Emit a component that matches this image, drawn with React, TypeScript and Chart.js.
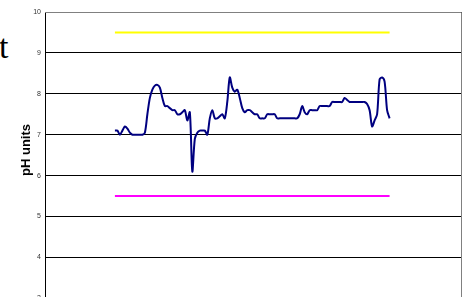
import React, { useEffect, useRef } from "react";
import { Chart, registerables } from "chart.js";

Chart.register(...registerables);

// pH readings (one per sample)
const phValues: number[] = [
  7.1, 7.1, 7.0, 7.1, 7.2, 7.15, 7.05, 7.0, 7.0, 7.0,
  7.0, 7.0, 7.05, 7.5, 7.9, 8.1, 8.2, 8.22, 8.15, 7.9,
  7.7, 7.7, 7.65, 7.6, 7.6, 7.5, 7.5, 7.55, 7.6, 7.35,
  7.55, 6.1, 6.9, 7.05, 7.1, 7.1, 7.1, 7.0, 7.4, 7.6,
  7.4, 7.4, 7.45, 7.5, 7.4, 7.8, 8.4, 8.15, 8.05, 8.1,
  7.9, 7.65, 7.55, 7.6, 7.6, 7.55, 7.5, 7.5, 7.4, 7.4,
  7.4, 7.5, 7.5, 7.5, 7.5, 7.4, 7.4, 7.4, 7.4, 7.4,
  7.4, 7.4, 7.4, 7.4, 7.5, 7.7, 7.55, 7.5, 7.6, 7.6,
  7.6, 7.6, 7.7, 7.7, 7.7, 7.7, 7.7, 7.8, 7.8, 7.8,
  7.8, 7.8, 7.9, 7.85, 7.8, 7.8, 7.8, 7.8, 7.8, 7.8,
  7.8, 7.75, 7.6, 7.2, 7.35, 7.5, 8.35, 8.4, 8.3, 7.6,
  7.4,
];
const upperLimit = 9.5;
const lowerLimit = 5.5;
const yTickMin = 0;
const yTickMax = 10;
const xPadBefore = 28;
const xPadAfter = 29;
const yAxisTitle = "pH units";

const borderPlugin = {
  id: "plotBorder",
  afterDraw(chart: any) {
    const { ctx, chartArea } = chart;
    ctx.save();
    ctx.strokeStyle = "#808080";
    ctx.lineWidth = 1;
    ctx.beginPath();
    ctx.moveTo(chartArea.left, chartArea.top + 0.5);
    ctx.lineTo(chartArea.right - 0.5, chartArea.top + 0.5);
    ctx.lineTo(chartArea.right - 0.5, chartArea.bottom);
    ctx.stroke();
    // y axis title, placed like the original (centred on the visible part)
    ctx.translate(26, 150);
    ctx.rotate(-Math.PI / 2);
    ctx.fillStyle = "#000";
    ctx.font = "bold 13px 'Liberation Sans', Arial, sans-serif";
    ctx.textAlign = "center";
    ctx.textBaseline = "middle";
    ctx.fillText(yAxisTitle, 0, 0);
    ctx.restore();
  },
};

export default function App() {
  const ref = useRef<HTMLCanvasElement | null>(null);

  useEffect(() => {
    if (!ref.current) return;
    const phPts = phValues.map((v, i) => ({ x: i, y: v }));
    const upPts = phValues.map((_, i) => ({ x: i, y: upperLimit }));
    const lowPts = phValues.map((_, i) => ({ x: i, y: lowerLimit }));
    const chart = new Chart(ref.current, {
      type: "line",
      data: {
        datasets: [
          {
            label: "Upper limit",
            data: upPts,
            borderColor: "#FFFF00",
            borderWidth: 2,
            pointRadius: 0,
            tension: 0,
          },
          {
            label: "Lower limit",
            data: lowPts,
            borderColor: "#FF00FF",
            borderWidth: 2,
            pointRadius: 0,
            tension: 0,
          },
          {
            label: "pH",
            data: phPts,
            borderColor: "#000080",
            borderWidth: 2,
            pointRadius: 0,
            tension: 0.3,
          },
        ],
      },
      options: {
        animation: false,
        responsive: false,
        maintainAspectRatio: false,
        layout: { padding: { top: 12, right: 4, bottom: 19, left: 14 } },
        plugins: {
          legend: { display: false },
          tooltip: { enabled: false },
          title: { display: false },
        },
        scales: {
          x: {
            type: "linear",
            display: false,
            min: -xPadBefore,
            max: phValues.length - 1 + xPadAfter,
          },
          y: {
            min: yTickMin,
            max: yTickMax,
            afterFit: (scale: any) => {
              scale.width = 31;
            },
            ticks: {
              stepSize: 1,
              padding: 4,
              color: "#333",
              font: { family: "Liberation Sans, Arial", size: 7 },
            },
            grid: { color: "#000", lineWidth: 1, drawTicks: false },
            border: { color: "#000", width: 1 },
            title: { display: false },
          },
        },
      },
      plugins: [borderPlugin],
    });
    return () => chart.destroy();
  }, []);

  return (
    <div
      style={{
        position: "fixed",
        left: 0,
        top: 0,
        width: 466,
        height: 297,
        overflow: "hidden",
        background: "#fff",
      }}
    >
      <div
        style={{
          position: "absolute",
          left: -1,
          top: 30,
          fontFamily: "'Liberation Serif', 'Times New Roman', serif",
          fontSize: 34,
          lineHeight: "34px",
          color: "#000",
        }}
      >
        t
      </div>
      <canvas
        ref={ref}
        width={466}
        height={440}
        style={{ position: "absolute", left: 0, top: 0, width: 466, height: 440 }}
      />
    </div>
  );
}
